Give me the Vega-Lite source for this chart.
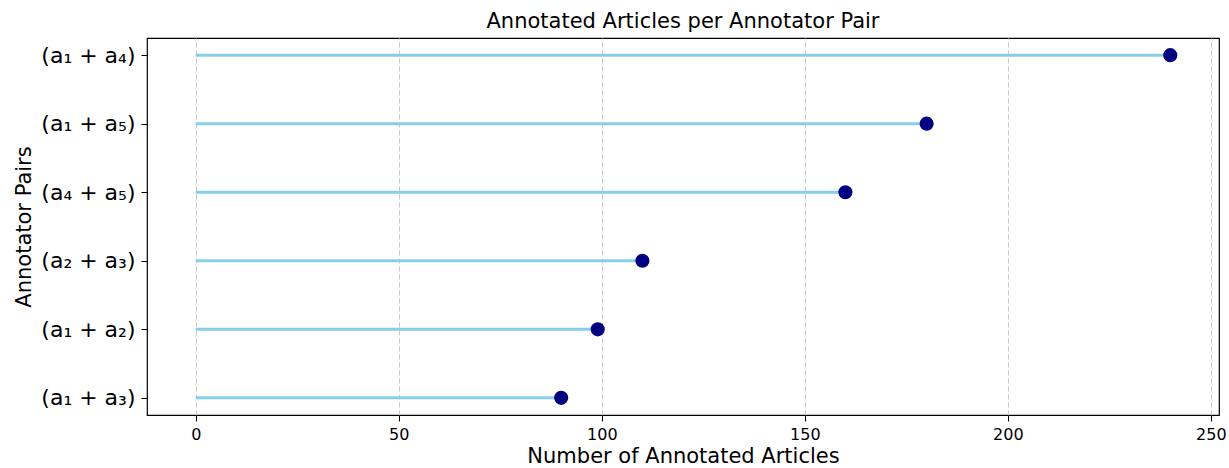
{
  "$schema": "https://vega.github.io/schema/vega-lite/v6.json",
  "autosize": "none",
  "width": 1072,
  "height": 377,
  "padding": {"left": 147, "top": 38, "right": 10, "bottom": 53},
  "config": {
    "font": "DejaVu Sans",
    "view": {"stroke": "black", "strokeWidth": 1.2},
    "axis": {"labelColor": "black", "titleColor": "black", "tickColor": "black", "titleFontWeight": "normal", "domain": false}
  },
  "title": {"text": "Annotated Articles per Annotator Pair", "fontSize": 21, "fontWeight": "normal", "font": "DejaVu Sans", "offset": 6, "color": "black"},
  "data": {
    "values": [
      {"pair": "(a₁ + a₄)", "articles": 240, "start": 0},
      {"pair": "(a₁ + a₅)", "articles": 180, "start": 0},
      {"pair": "(a₄ + a₅)", "articles": 160, "start": 0},
      {"pair": "(a₂ + a₃)", "articles": 110, "start": 0},
      {"pair": "(a₁ + a₂)", "articles": 99, "start": 0},
      {"pair": "(a₁ + a₃)", "articles": 90, "start": 0}
    ]
  },
  "encoding": {
    "y": {
      "field": "pair", "type": "nominal",
      "sort": ["(a₁ + a₄)", "(a₁ + a₅)", "(a₄ + a₅)", "(a₂ + a₃)", "(a₁ + a₂)", "(a₁ + a₃)"],
      "scale": {"type": "point", "padding": 0.25},
      "axis": {"title": "Annotator Pairs", "titleFontSize": 21, "labelFontSize": 22, "labelPadding": 6, "tickSize": 6, "grid": false, "titlePadding": 6}
    },
    "x": {
      "field": "articles", "type": "quantitative",
      "scale": {"domain": [-12, 252], "nice": false, "zero": false},
      "axis": {"title": "Number of Annotated Articles", "titleFontSize": 21, "labelFontSize": 16, "values": [0, 50, 100, 150, 200, 250], "tickSize": 6, "labelPadding": 5, "titlePadding": 3, "grid": true, "gridDash": [5, 3], "gridColor": "#c8c8c8", "gridWidth": 1}
    }
  },
  "layer": [
    {
      "mark": {"type": "rule", "color": "#87CEEB", "strokeWidth": 3},
      "encoding": {
        "x2": {"field": "start"}
      }
    },
    {
      "mark": {"type": "point", "filled": true, "color": "#000080", "size": 200, "opacity": 1},
      "encoding": {}
    }
  ]
}
